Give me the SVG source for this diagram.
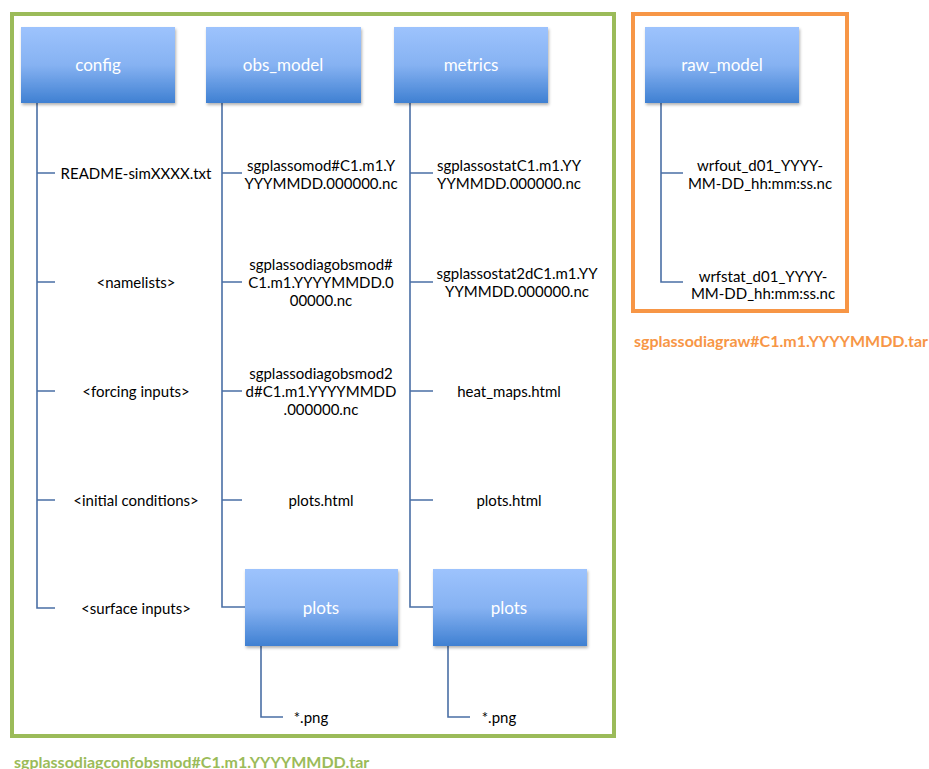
<svg xmlns="http://www.w3.org/2000/svg" width="929" height="769" viewBox="0 0 929 769">
<style>
.box{fill:url(#g);filter:url(#sh)}
.bt{font-family:Lato,"Open Sans",sans-serif;font-size:17px;fill:#fff;text-anchor:middle;dominant-baseline:central}
.t{font-family:Lato,"Open Sans",sans-serif;font-size:15px;fill:#000;text-anchor:middle;dominant-baseline:central}
.c path{fill:none;stroke:#4A6FA5;stroke-width:1.6}
.lbl{font-family:Lato,"Open Sans",sans-serif;font-size:16px;font-weight:bold;dominant-baseline:central}
</style>
<defs>
<linearGradient id="g" x1="0" y1="0" x2="0" y2="1">
<stop offset="0" stop-color="#9DC3FD"/>
<stop offset="0.5" stop-color="#86B2F2"/>
<stop offset="1" stop-color="#3F80D2"/>
</linearGradient>
<filter id="sh" x="-10%" y="-10%" width="125%" height="130%">
<feDropShadow dx="1" dy="2" stdDeviation="1.5" flood-color="#000" flood-opacity="0.3"/>
</filter>
</defs>
<rect width="929" height="769" fill="#fff"/>
<rect id="green" x="12" y="14" width="602" height="722" fill="none" stroke="#9BBB59" stroke-width="4"/>
<rect id="orange" x="633" y="14" width="214" height="297" fill="none" stroke="#F79646" stroke-width="4"/>
<g class="c" id="connectors">
<path d="M37 103V608H55M37 173H55M37 282H55M37 391H55M37 500H55"/>
<path d="M222 103V607H245M222 173H242M222 282H242M222 391H242M222 500H242"/>
<path d="M410 103V607H433M410 173H433M410 282H433M410 391H433M410 500H433"/>
<path d="M261 646V717H283"/>
<path d="M448 646V717H470"/>
<path d="M661 103V282H683M661 173H683"/>
</g>
<g id="config"><rect class="box" x="21" y="27" width="154" height="76"/><text class="bt" x="98" y="64">config</text></g>
<g id="obs_model"><rect class="box" x="206" y="27" width="155" height="76"/><text class="bt" x="283" y="64">obs_model</text></g>
<g id="metrics"><rect class="box" x="394" y="27" width="154" height="76"/><text class="bt" x="471" y="64">metrics</text></g>
<g id="raw_model"><rect class="box" x="645" y="27" width="154" height="76"/><text class="bt" x="722" y="64">raw_model</text></g>
<g id="plots1"><rect class="box" x="245" y="569" width="153" height="77"/><text class="bt" x="321" y="607">plots</text></g>
<g id="plots2"><rect class="box" x="433" y="569" width="154" height="77"/><text class="bt" x="509" y="607">plots</text></g>
<g id="config_items">
<text class="t" x="136" y="173">README-simXXXX.txt</text>
<text class="t" x="136" y="282">&lt;namelists&gt;</text>
<text class="t" x="136" y="391">&lt;forcing inputs&gt;</text>
<text class="t" x="136" y="500">&lt;initial conditions&gt;</text>
<text class="t" x="136" y="608">&lt;surface inputs&gt;</text>
</g>
<g id="obs_items">
<text class="t" x="321" y="165">sgplassomod#C1.m1.Y</text>
<text class="t" x="321" y="183">YYYMMDD.000000.nc</text>
<text class="t" x="321" y="264">sgplassodiagobsmod#</text>
<text class="t" x="321" y="282">C1.m1.YYYYMMDD.0</text>
<text class="t" x="321" y="300">00000.nc</text>
<text class="t" x="321" y="373">sgplassodiagobsmod2</text>
<text class="t" x="321" y="391">d#C1.m1.YYYYMMDD</text>
<text class="t" x="321" y="409">.000000.nc</text>
<text class="t" x="321" y="500">plots.html</text>
<text class="t" x="311" y="717">*.png</text>
</g>
<g id="metrics_items">
<text class="t" x="509" y="165">sgplassostatC1.m1.YY</text>
<text class="t" x="509" y="183">YYMMDD.000000.nc</text>
<text class="t" x="517" y="273">sgplassostat2dC1.m1.YY</text>
<text class="t" x="517" y="291">YYMMDD.000000.nc</text>
<text class="t" x="509" y="391">heat_maps.html</text>
<text class="t" x="509" y="500">plots.html</text>
<text class="t" x="499" y="717">*.png</text>
</g>
<g id="raw_items">
<text class="t" x="760" y="165">wrfout_d01_YYYY-</text>
<text class="t" x="760" y="183">MM-DD_hh:mm:ss.nc</text>
<text class="t" x="763" y="276">wrfstat_d01_YYYY-</text>
<text class="t" x="763" y="293">MM-DD_hh:mm:ss.nc</text>
</g>
<text class="lbl" x="14" y="761" fill="#9BBB59">sgplassodiagconfobsmod#C1.m1.YYYYMMDD.tar</text>
<text class="lbl" x="634" y="340" fill="#F79646">sgplassodiagraw#C1.m1.YYYYMMDD.tar</text>
</svg>
